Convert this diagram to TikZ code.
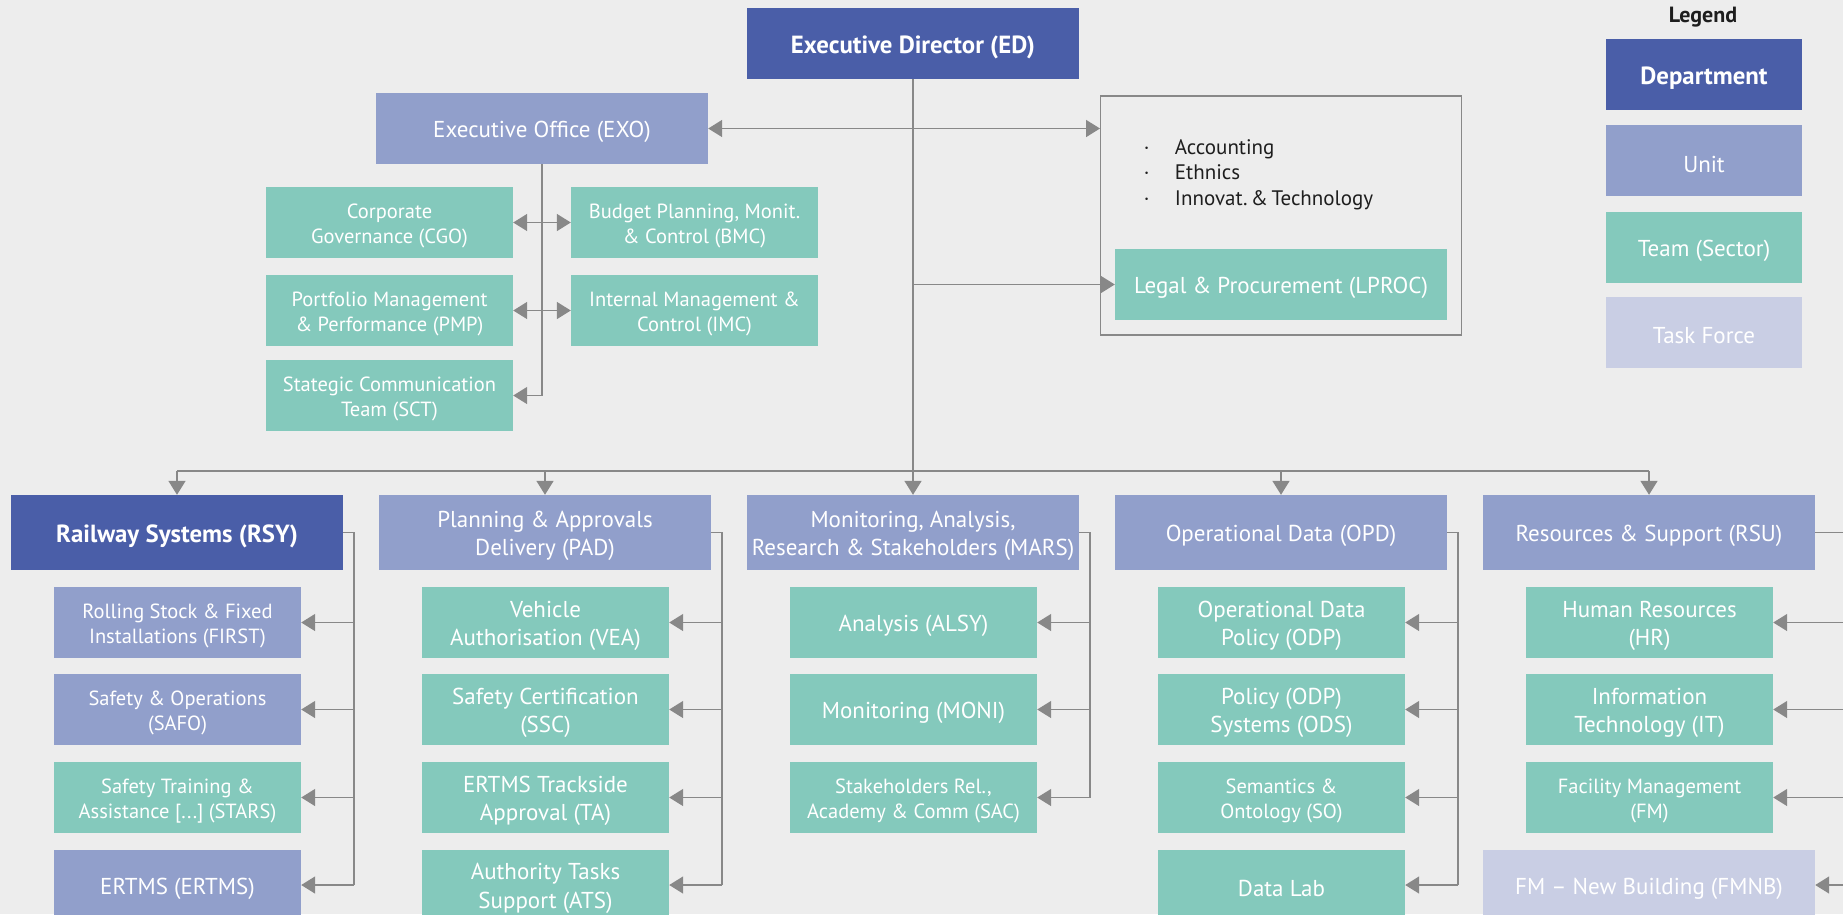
\documentclass[tikz,border=0pt]{standalone}
\usepackage{fontspec}
\setmainfont{PT Sans}
\frenchspacing
\usetikzlibrary{arrows.meta}

\definecolor{canvas}{HTML}{EDEDED}
\definecolor{deptblue}{HTML}{4A5EA8}
\definecolor{unitblue}{HTML}{919FCB}
\definecolor{teamgreen}{HTML}{84C9BC}
\definecolor{tasklilac}{HTML}{C9CEE4}
\definecolor{wire}{HTML}{888888}
\definecolor{ink}{HTML}{1E1E1E}

\newcommand\txtL{\fontsize{23}{28.5}\selectfont}
\newcommand\txtS{\fontsize{20.5}{25}\selectfont}
\newcommand\txtB{\fontsize{24.8}{29}\selectfont\bfseries}

\tikzset{
  box/.style={rectangle, inner sep=0pt, text=white, align=center,
              minimum height=71pt, font=\txtL},
  wide/.style={box, minimum width=332pt},
  narrow/.style={box, minimum width=247pt},
  dept/.style={wide, fill=deptblue, font=\txtB},
  unit/.style={wide, fill=unitblue},
  top/.style={minimum height=75pt},
  unitS/.style={narrow, fill=unitblue},
  team/.style={narrow, fill=teamgreen},
  task/.style={wide, fill=tasklilac},
  small/.style={font=\txtS},
  legendbox/.style={box, minimum width=196pt},
  % caption layer of a box: no fill, text set slightly below the centre
  caption/.style={fill=none, draw=none, minimum width=0pt, minimum height=0pt, yshift=-3.5pt},
  link/.style={draw=wire, line width=1.6pt},
  arr/.style={link, -{Triangle[length=14pt, width=17pt]}},
  arrboth/.style={link, {Triangle[length=14pt, width=17pt]}-{Triangle[length=14pt, width=17pt]}},
  item/.style={anchor=base west, inner sep=0pt, text=ink, font=\fontsize{21}{25}\selectfont},
  dot/.style={anchor=base, inner sep=0pt, text=ink, font=\fontsize{21}{25}\selectfont},
}

% \orgbox{style}{name}{position}{text}: filled box plus its caption
\newcommand\orgbox[4]{%
  \node[#1] (#2) at (#3) {};
  \node[#1, caption] (#2-t) at (#2.center) {#4};%
}

\begin{document}
\begin{tikzpicture}[x=1pt, y=-1pt]
\clip (0,0) rectangle (1843,914);
\fill[canvas] (0,0) rectangle (1843,914);

% ---------- head of the organisation ----------
\orgbox{dept}{ED}{913,43.5}{Executive Director (ED)}
\orgbox{unit}{EXO}{542,128.5}{Executive Office (EXO)}

\orgbox{team, small}{CGO}{389.5,222.5}{Corporate\\Governance (CGO)}
\orgbox{team, small}{BMC}{694.5,222.5}{Budget Planning, Monit.\\\& Control (BMC)}
\orgbox{team, small}{PMP}{389.5,310.5}{Portfolio Management\\\& Performance (PMP)}
\orgbox{team, small}{IMC}{694.5,310.5}{Internal Management \&\\Control (IMC)}
\orgbox{team, small}{SCT}{389.5,395.5}{Stategic Communication\\Team (SCT)}

% staff functions attached to the director
\node[draw=wire, line width=1.4pt, minimum width=361pt, minimum height=239pt, inner sep=0pt] (tray) at (1281.2,215.5) {};
\node[dot]  (d1) at (1146.7,154) {·};
\node[item] (acc) at (1174.7,154) {Accounting};
\node[dot]  (d2) at (1146.7,179.3) {·};
\node[item] (eth) at (1174.7,179.3) {Ethnics};
\node[dot]  (d3) at (1146.7,205) {·};
\node[item] (inn) at (1174.7,205) {Innovat.\,\&\,Technology};
\orgbox{team, minimum width=332pt}{LPROC}{1281,284.5}{Legal \& Procurement (LPROC)}

% ---------- legend ----------
\node[inner sep=0pt, text=ink, font=\fontsize{22}{26}\selectfont\bfseries] (legend) at (1703,17) {Legend};
\orgbox{legendbox, fill=deptblue, font=\txtB}{lgDept}{1704,74.5}{Department}
\orgbox{legendbox, fill=unitblue}{lgUnit}{1704,160.5}{Unit}
\orgbox{legendbox, fill=teamgreen}{lgTeam}{1704,247.5}{Team (Sector)}
\orgbox{legendbox, fill=tasklilac}{lgTask}{1704,332.5}{Task Force}

% ---------- departments and units ----------
\orgbox{dept, top}{RSY}{177,532.5}{Railway Systems (RSY)}
\orgbox{unit, top}{PAD}{545,532.5}{Planning \& Approvals\\Delivery (PAD)}
\orgbox{unit, top}{MARS}{913,532.5}{Monitoring, Analysis,\\Research \& Stakeholders (MARS)}
\orgbox{unit, top}{OPD}{1281,532.5}{Operational Data (OPD)}
\orgbox{unit, top}{RSU}{1649,532.5}{Resources \& Support (RSU)}

% Railway Systems
\orgbox{unitS, small}{FIRST}{177.5,622.5}{Rolling Stock \& Fixed\\Installations (FIRST)}
\orgbox{unitS, small}{SAFO}{177.5,709.5}{Safety \& Operations\\(SAFO)}
\orgbox{team, small}{STARS}{177.5,797.5}{Safety Training \&\\Assistance [...] (STARS)}
\orgbox{unitS}{ERTMS}{177.5,885}{ERTMS (ERTMS)}

% Planning & Approvals Delivery
\orgbox{team}{VEA}{545.5,622.5}{Vehicle\\Authorisation (VEA)}
\orgbox{team}{SSC}{545.5,709.5}{Safety Certification\\(SSC)}
\orgbox{team}{TA}{545.5,797.5}{ERTMS Trackside\\Approval (TA)}
\orgbox{team}{ATS}{545.5,885}{Authority Tasks\\Support (ATS)}

% Monitoring, Analysis, Research & Stakeholders
\orgbox{team}{ALSY}{913.5,622.5}{Analysis (ALSY)}
\orgbox{team}{MONI}{913.5,709.5}{Monitoring (MONI)}
\orgbox{team, small}{SAC}{913.5,797.5}{Stakeholders Rel.,\\Academy \& Comm (SAC)}

% Operational Data
\orgbox{team}{ODP}{1281.5,622.5}{Operational Data\\Policy (ODP)}
\orgbox{team}{ODS}{1281.5,709.5}{Policy (ODP)\\Systems (ODS)}
\orgbox{team, small}{SO}{1281.5,797.5}{Semantics \&\\Ontology (SO)}
\orgbox{team}{DL}{1281.5,885}{Data Lab}

% Resources & Support
\orgbox{team}{HR}{1649.5,622.5}{Human Resources\\(HR)}
\orgbox{team}{IT}{1649.5,709.5}{Information\\Technology (IT)}
\orgbox{team, small}{FM}{1649.5,797.5}{Facility Management\\(FM)}
\orgbox{task}{FMNB}{1649,885}{FM -- New Building (FMNB)}

% ---------- connectors ----------
% director trunk and the bus to the departments
\coordinate (busL) at (177,471);
\coordinate (busR) at (1649,471);
\draw[link] (ED.south) -- (ED.south |- busL);
\draw[link] (busL) -- (busR);
\foreach \n in {RSY,PAD,MARS,OPD,RSU}
  \draw[arr] (\n.north |- busL) -- (\n.north);

% executive office and staff functions
\draw[arrboth] (EXO.east) -- (EXO.east -| tray.west);
\draw[arr] (ED.south |- LPROC.west) -- (LPROC.west);
\draw[arr] (EXO.south) -- (EXO.south |- SCT.east) -- (SCT.east);
\draw[arrboth] (CGO.east) -- (BMC.west);
\draw[arrboth] (PMP.east) -- (IMC.west);

% department rails
\path (RSY.east)  ++(11,0) coordinate (railRSY);
\path (PAD.east)  ++(11,0) coordinate (railPAD);
\path (MARS.east) ++(11,0) coordinate (railMARS);
\path (OPD.east)  ++(11,0) coordinate (railOPD);
\path (RSU.east)  ++(45,0) coordinate (railRSU);

\draw[link] (RSY.east) -- (railRSY) -- (railRSY |- ERTMS.east);
\foreach \c in {FIRST,SAFO,STARS,ERTMS} \draw[arr] (railRSY |- \c.east) -- (\c.east);

\draw[link] (PAD.east) -- (railPAD) -- (railPAD |- ATS.east);
\foreach \c in {VEA,SSC,TA,ATS} \draw[arr] (railPAD |- \c.east) -- (\c.east);

\draw[link] (MARS.east) -- (railMARS) -- (railMARS |- SAC.east);
\foreach \c in {ALSY,MONI,SAC} \draw[arr] (railMARS |- \c.east) -- (\c.east);

\draw[link] (OPD.east) -- (railOPD) -- (railOPD |- DL.east);
\foreach \c in {ODP,ODS,SO,DL} \draw[arr] (railOPD |- \c.east) -- (\c.east);

\draw[link] (RSU.east) -- (railRSU) -- (railRSU |- FMNB.east);
\foreach \c in {HR,IT,FM,FMNB} \draw[arr] (railRSU |- \c.east) -- (\c.east);
\end{tikzpicture}
\end{document}
